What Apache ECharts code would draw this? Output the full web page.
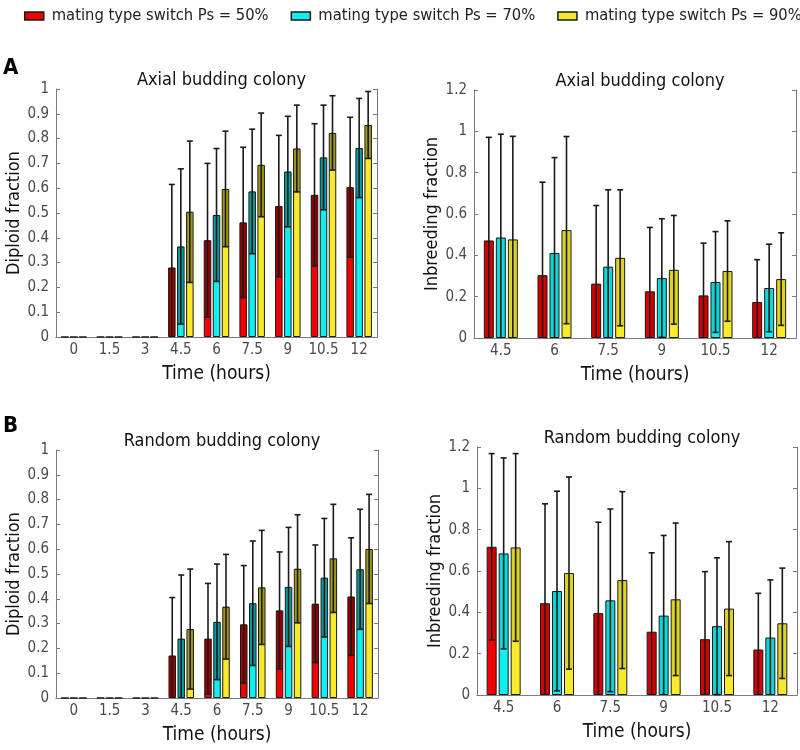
<!DOCTYPE html>
<html><head><meta charset="utf-8">
<script src="https://cdn.jsdelivr.net/npm/echarts@6/dist/echarts.min.js"></script>
<style>html,body{margin:0;padding:0;background:#fff}#c{width:800px;height:750px}</style>
</head><body><div id="c"></div>
<script>
var FONT = "'DejaVu Sans Condensed','Liberation Sans Narrow',sans-serif";
var seriesNames = ['mating type switch Ps = 50%', 'mating type switch Ps = 70%', 'mating type switch Ps = 90%'];
var colors = ['#f00000', '#10f0f0', '#f7ea2a'];
var timesAll = ['0', '1.5', '3', '4.5', '6', '7.5', '9', '10.5', '12'];
var timesLate = ['4.5', '6', '7.5', '9', '10.5', '12'];

// Panel A left: axial, diploid fraction (mean, sd)
var axDipMean50 = [0, 0, 0, 0.280, 0.390, 0.462, 0.528, 0.573, 0.604];
var axDipSd50   = [0, 0, 0, 0.335, 0.310, 0.303, 0.285, 0.287, 0.282];
var axDipMean70 = [0, 0, 0, 0.365, 0.492, 0.587, 0.667, 0.724, 0.762];
var axDipSd70   = [0, 0, 0, 0.313, 0.268, 0.251, 0.223, 0.211, 0.200];
var axDipMean90 = [0, 0, 0, 0.505, 0.597, 0.694, 0.760, 0.823, 0.855];
var axDipSd90   = [0, 0, 0, 0.285, 0.233, 0.209, 0.175, 0.150, 0.135];

// Panel A right: axial, inbreeding fraction
var axInbMean50 = [0.472, 0.304, 0.263, 0.226, 0.206, 0.174];
var axInbSd50   = [0.499, 0.450, 0.378, 0.309, 0.253, 0.205];
var axInbMean70 = [0.486, 0.411, 0.345, 0.290, 0.271, 0.242];
var axInbSd70   = [0.500, 0.462, 0.372, 0.287, 0.244, 0.212];
var axInbMean90 = [0.477, 0.522, 0.388, 0.330, 0.324, 0.285];
var axInbSd90   = [0.499, 0.453, 0.329, 0.263, 0.243, 0.224];

// Panel B left: random, diploid fraction
var rdDipMean50 = [0, 0, 0, 0.171, 0.239, 0.297, 0.353, 0.380, 0.409];
var rdDipSd50   = [0, 0, 0, 0.234, 0.223, 0.237, 0.236, 0.237, 0.237];
var rdDipMean70 = [0, 0, 0, 0.239, 0.307, 0.382, 0.448, 0.485, 0.519];
var rdDipSd70   = [0, 0, 0, 0.257, 0.233, 0.251, 0.240, 0.239, 0.242];
var rdDipMean90 = [0, 0, 0, 0.278, 0.368, 0.446, 0.521, 0.563, 0.601];
var rdDipSd90   = [0, 0, 0, 0.242, 0.211, 0.230, 0.218, 0.218, 0.220];

// Panel B right: random, inbreeding fraction
var rdInbMean50 = [0.717, 0.444, 0.396, 0.306, 0.270, 0.220];
var rdInbSd50   = [0.451, 0.481, 0.440, 0.382, 0.327, 0.272];
var rdInbMean70 = [0.685, 0.503, 0.458, 0.384, 0.333, 0.278];
var rdInbSd70   = [0.462, 0.483, 0.442, 0.388, 0.331, 0.279];
var rdInbMean90 = [0.714, 0.590, 0.556, 0.463, 0.418, 0.347];
var rdInbSd90   = [0.454, 0.465, 0.428, 0.369, 0.324, 0.267];

var dipTicks = {min: 0, max: 1, interval: 0.1};
var inbTicks = {min: 0, max: 1.2, interval: 0.2};

var panels = [
  {grid: {left: 56, top: 89, width: 321, height: 248}, title: 'Axial budding colony', yName: 'Diploid fraction',
   cats: timesAll, y: dipTicks, means: [axDipMean50, axDipMean70, axDipMean90], sds: [axDipSd50, axDipSd70, axDipSd90], bw: 7.5, gap: 1.5, shade: 0.35},
  {grid: {left: 474, top: 90, width: 322, height: 248}, title: 'Axial budding colony', yName: 'Inbreeding fraction',
   cats: timesLate, y: inbTicks, means: [axInbMean50, axInbMean70, axInbMean90], sds: [axInbSd50, axInbSd70, axInbSd90], bw: 10, gap: 2, shade: 0.1},
  {grid: {left: 56, top: 450, width: 322, height: 248}, title: 'Random budding colony', yName: 'Diploid fraction',
   cats: timesAll, y: dipTicks, means: [rdDipMean50, rdDipMean70, rdDipMean90], sds: [rdDipSd50, rdDipSd70, rdDipSd90], bw: 7.5, gap: 1.5, shade: 0.35},
  {grid: {left: 477, top: 447, width: 320, height: 248}, title: 'Random budding colony', yName: 'Inbreeding fraction',
   cats: timesLate, y: inbTicks, means: [rdInbMean50, rdInbMean70, rdInbMean90], sds: [rdInbSd50, rdInbSd70, rdInbSd90], bw: 10, gap: 2, shade: 0.1}
];

var axisLineStyle = {color: '#7a7a7a', width: 1};
var grids = [], xAxes = [], yAxes = [], series = [], titles = [];

function errRender(offset, bw, shade) {
  return function (params, api) {
    var cat = api.value(0), m = api.value(1), sd = api.value(2);
    if (!(m > 0)) return null;
    var top = api.coord([cat, m]);
    var x = top[0] + offset;
    var loV = Math.max(m - sd, 0);
    var yLo = api.coord([cat, loV])[1];
    var yHi = api.coord([cat, m + sd])[1];
    var hw = bw / 2 - 0.8;
    var ch = [];
    ch.push({type: 'rect', shape: {x: x - hw, y: top[1], width: hw * 2, height: Math.max(yLo - top[1], 0)},
             style: {fill: 'rgba(0,0,0,' + shade + ')'}});
    ch.push({type: 'line', shape: {x1: x, y1: yLo, x2: x, y2: yHi}, style: {stroke: '#1a1a1a', lineWidth: 1.6}});
    ch.push({type: 'line', shape: {x1: x - 3, y1: yHi, x2: x + 3, y2: yHi}, style: {stroke: '#1a1a1a', lineWidth: 1.6}});
    if (m - sd > 0) {
      ch.push({type: 'line', shape: {x1: x - 3, y1: yLo, x2: x + 3, y2: yLo}, style: {stroke: '#1a1a1a', lineWidth: 1.6}});
    }
    return {type: 'group', children: ch};
  };
}

panels.forEach(function (p, gi) {
  grids.push(p.grid);
  var cx = p.grid.left + p.grid.width / 2;
  titles.push({text: p.title, left: cx, top: p.grid.top - 23, textAlign: 'center',
    textStyle: {fontFamily: FONT, fontSize: 18, fontWeight: 'normal', color: '#111'}});
  xAxes.push({type: 'category', gridIndex: gi, data: p.cats, position: 'bottom',
    axisLine: {lineStyle: axisLineStyle}, axisTick: {inside: true, alignWithLabel: true, length: 4, lineStyle: axisLineStyle},
    axisLabel: {fontFamily: FONT, fontSize: 15, color: '#4a4a4a', margin: 6, interval: 0, hideOverlap: false},
    name: 'Time (hours)', nameLocation: 'middle', nameGap: 28,
    nameTextStyle: {fontFamily: FONT, fontSize: 19, color: '#111'}});
  xAxes.push({type: 'category', gridIndex: gi, data: p.cats, position: 'top',
    axisLine: {lineStyle: axisLineStyle}, axisTick: {inside: true, alignWithLabel: true, length: 4, lineStyle: axisLineStyle},
    axisLabel: {show: false}});
  yAxes.push({type: 'value', gridIndex: gi, min: p.y.min, max: p.y.max, interval: p.y.interval, position: 'left',
    axisLine: {show: true, lineStyle: axisLineStyle}, axisTick: {show: true, inside: true, length: 4, lineStyle: axisLineStyle},
    splitLine: {show: false},
    axisLabel: {fontFamily: FONT, fontSize: 15, color: '#4a4a4a', margin: 7},
    name: p.yName, nameLocation: 'middle', nameGap: 32, nameRotate: 90,
    nameTextStyle: {fontFamily: FONT, fontSize: 18, color: '#111'}});
  yAxes.push({type: 'value', gridIndex: gi, min: p.y.min, max: p.y.max, interval: p.y.interval, position: 'right',
    axisLine: {show: true, lineStyle: axisLineStyle}, axisTick: {show: true, inside: true, length: 4, lineStyle: axisLineStyle},
    splitLine: {show: false}, axisLabel: {show: false}});
  var gapPct = (p.gap / p.bw * 100) + '%';
  var step = p.bw + p.gap;
  for (var k = 0; k < 3; k++) {
    series.push({type: 'bar', name: seriesNames[k], xAxisIndex: gi * 2, yAxisIndex: gi * 2,
      data: p.means[k], barWidth: p.bw, barGap: gapPct,
      itemStyle: {color: colors[k], borderColor: '#1a1a1a', borderWidth: 1}, z: 2});
  }
  for (var k2 = 0; k2 < 3; k2++) {
    var d = p.means[k2].map(function (m, i) { return [i, m, p.sds[k2][i]]; });
    series.push({type: 'custom', xAxisIndex: gi * 2, yAxisIndex: gi * 2, data: d, z: 5,
      renderItem: errRender((k2 - 1) * step, p.bw, p.shade), silent: true});
  }
});

var chart = echarts.init(document.getElementById('c'), null, {renderer: 'canvas'});
chart.setOption({
  animation: false,
  backgroundColor: '#fff',
  title: titles,
  legend: {data: seriesNames, left: 19, top: 3, width: 790, orient: 'horizontal',
    itemWidth: 19, itemHeight: 8, itemGap: 22,
    icon: 'rect', itemStyle: {borderColor: '#1a1a1a', borderWidth: 1.5},
    textStyle: {fontFamily: FONT, fontSize: 16.4, color: '#222', padding: [0, 0, 0, 3]}},
  grid: grids,
  xAxis: xAxes,
  yAxis: yAxes,
  series: series,
  graphic: [
    {type: 'text', left: 3, top: 57, style: {text: 'A', font: 'bold 22px ' + FONT, fill: '#000'}},
    {type: 'text', left: 3, top: 415, style: {text: 'B', font: 'bold 22px ' + FONT, fill: '#000'}}
  ]
});
</script></body></html>
